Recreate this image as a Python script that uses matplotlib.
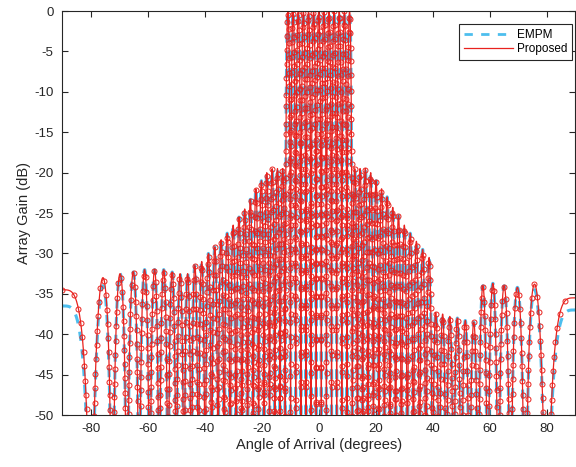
import numpy as np
import matplotlib
matplotlib.use("Agg")
import matplotlib.pyplot as plt
from matplotlib.lines import Line2D

plt.rcParams['font.family'] = ['Liberation Sans', 'DejaVu Sans']
plt.rcParams['axes.unicode_minus'] = False

# ---- data ----
n_elements = 64                      # lobe spacing 2/N in sin(theta)
lobe_index = list(range(-32, 33))    # lobe centres at sin(theta) = k/32
# peak gain (dB) of each lobe, k = -32 ... 32
proposed_peak_db = [
    -34.5, -33.0, -32.5, -32.3, -32.0, -32.0, -32.0, -32.3, -32.5, -32.5,   # k=-32..-23
    -31.5, -31.0, -30.0, -29.2, -28.3, -27.5, -26.5, -25.5, -24.5, -23.3,   # k=-22..-13
    -22.0, -21.0, -20.0, -19.5, -19.5, -19.5,                               # k=-12..-7
    0.0, 0.0, 0.0, 0.0, 0.0, 0.0, 0.0, 0.0, 0.0, 0.0, 0.0, 0.0, 0.0,        # k=-6..6
    -19.5, -19.5, -19.5, -20.0, -21.0, -22.0, -23.0, -24.3, -25.3, -26.5,   # k=7..16
    -27.5, -28.5, -29.5, -30.5, -37.3, -37.5, -37.8, -38.0, -38.3, -38.5,   # k=17..26
    -34.0, -33.7, -34.0, -34.2, -33.8, -35.5,                               # k=27..32
]
empm_peak_db = list(proposed_peak_db)
empm_peak_db[0] = -36.5
empm_peak_db[1] = -34.0
empm_peak_db[-1] = -37.0
empm_peak_db[-2] = -34.5

x_ticks = [-80, -60, -40, -20, 0, 20, 40, 60, 80]
y_ticks = [-50, -45, -40, -35, -30, -25, -20, -15, -10, -5, 0]
series_labels = ["EMPM", "Proposed"]

cyan = '#4DBEEE'
red = '#E8221E'


def lobe_pattern(theta_deg, peaks):
    u = np.sin(np.deg2rad(theta_deg))
    k = np.clip(np.round(u * n_elements / 2).astype(int), -32, 32)
    peak = np.asarray(peaks)[k + 32]
    shape = np.abs(np.cos(np.pi * n_elements * u / 2)) + 1e-9
    return peak + 2.0 * 20 * np.log10(shape)


theta = np.arange(-90, 90.0001, 0.01)
g_empm = lobe_pattern(theta, empm_peak_db)
g_prop = lobe_pattern(theta, proposed_peak_db)
g_prop_vis = np.maximum(g_prop, -52)

fig = plt.figure(figsize=(5.76, 4.67), dpi=100)
ax = fig.add_axes([0.1076, 0.1113, 0.8915, 0.8651])

ax.plot(theta, g_empm, color=cyan, lw=2.2, dashes=(3.0, 2.8))
ax.plot(theta, g_prop_vis, color=red, lw=0.9, marker='o', ms=3.6,
        mfc='none', mec=red, mew=0.7, markevery=0.022)

ax.set_xlim(-90, 90)
ax.set_ylim(-50, 0)
ax.set_xticks(x_ticks)
ax.set_yticks(y_ticks)
ax.tick_params(direction='in', top=True, right=True, length=4,
               labelsize=9.5, pad=6, colors='#262626', width=0.8)
for s in ax.spines.values():
    s.set_color('#262626')
    s.set_linewidth(0.8)
ax.set_xlabel("Angle of Arrival (degrees)", fontsize=10.5, color='#262626', labelpad=2)
ax.set_ylabel("Array Gain (dB)", fontsize=10.5, color='#262626', labelpad=2)

handles = [Line2D([], [], color=cyan, lw=2.0, dashes=(3.0, 3.0)),
           Line2D([], [], color=red, lw=0.9)]
leg = ax.legend(handles, series_labels, loc='upper right',
                bbox_to_anchor=(0.993, 0.968), fontsize=8.5,
                handlelength=4.2, framealpha=1, fancybox=False,
                edgecolor='#262626', borderpad=0.4, labelspacing=0.2,
                handletextpad=0.3, borderaxespad=0)
leg.get_frame().set_linewidth(0.8)

fig.savefig("out.png", dpi=100)
